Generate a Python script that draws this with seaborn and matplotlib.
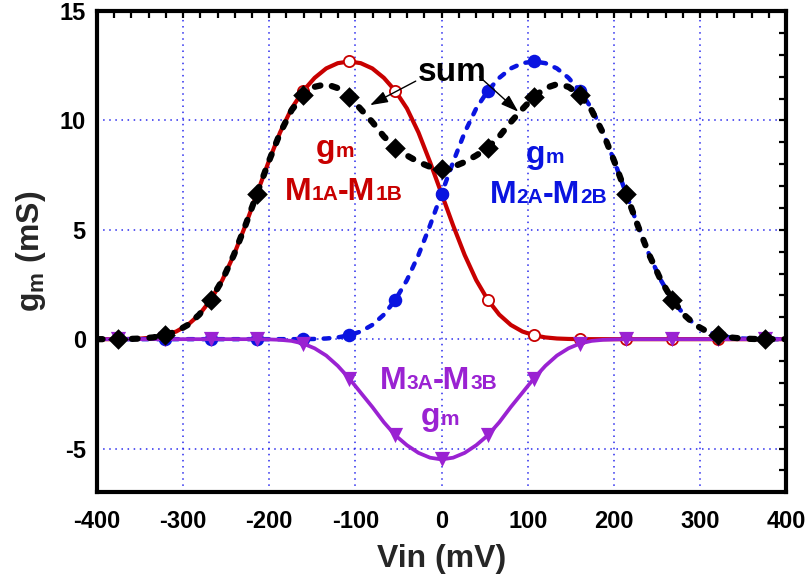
import matplotlib
matplotlib.use("Agg")
import matplotlib.pyplot as plt
from matplotlib.ticker import MultipleLocator
from matplotlib.offsetbox import TextArea, HPacker, AnnotationBbox
import seaborn as sns

# Input voltage sweep (mV)
vin = [-400,
       -375.0, -361.6, -348.2, -334.8, -321.4, -308.0, -294.6, -281.3, -267.9, -254.5,
       -241.1, -227.7, -214.3, -200.9, -187.5, -174.1, -160.7, -147.3, -133.9, -120.5,
       -107.1, -93.8, -80.4, -67.0, -53.6, -40.2, -26.8, -13.4, 0.0, 13.4,
       26.8, 40.2, 53.6, 67.0, 80.4, 93.8, 107.1, 120.5, 133.9, 147.3,
       160.7, 174.1, 187.5, 200.9, 214.3, 227.7, 241.1, 254.5, 267.9, 281.3,
       294.6, 308.0, 321.4, 334.8, 348.2, 361.6, 375.0,
       400]

# Transconductance of each differential pair (mS)
gm_m1 = [0,
         0, 0.01, 0.03, 0.08, 0.18, 0.35, 0.65, 1.12, 1.8, 2.7,
         3.85, 5.2, 6.65, 8.1, 9.45, 10.55, 11.35, 11.95, 12.38, 12.62,
         12.7, 12.62, 12.38, 11.95, 11.35, 10.55, 9.45, 8.1, 6.65, 5.2,
         3.85, 2.7, 1.8, 1.12, 0.65, 0.35, 0.18, 0.08, 0.03, 0.01,
         0, 0, 0, 0, 0, 0, 0, 0, 0, 0,
         0, 0, 0, 0, 0, 0, 0,
         0]
gm_m2 = [0,
         0, 0, 0, 0, 0, 0, 0, 0, 0, 0,
         0, 0, 0, 0, 0, 0, 0, 0.01, 0.03, 0.08,
         0.18, 0.35, 0.65, 1.12, 1.8, 2.7, 3.85, 5.2, 6.65, 8.1,
         9.45, 10.55, 11.35, 11.95, 12.38, 12.62, 12.7, 12.62, 12.38, 11.95,
         11.35, 10.55, 9.45, 8.1, 6.65, 5.2, 3.85, 2.7, 1.8, 1.12,
         0.65, 0.35, 0.18, 0.08, 0.03, 0.01, 0,
         0]
gm_m3 = [0,
         0, 0, 0, 0, 0, 0, 0, 0, 0, 0,
         0, 0, 0, -0.01, -0.03, -0.08, -0.2, -0.42, -0.75, -1.22,
         -1.8, -2.45, -3.1, -3.8, -4.4, -4.85, -5.2, -5.42, -5.5, -5.42,
         -5.2, -4.85, -4.4, -3.8, -3.1, -2.45, -1.8, -1.22, -0.75, -0.42,
         -0.2, -0.08, -0.03, -0.01, 0, 0, 0, 0, 0, 0,
         0, 0, 0, 0, 0, 0, 0,
         0]
gm_sum = [0,
          0, 0.01, 0.03, 0.08, 0.18, 0.35, 0.65, 1.12, 1.8, 2.7,
          3.85, 5.2, 6.65, 8.09, 9.42, 10.47, 11.15, 11.54, 11.66, 11.48,
          11.08, 10.52, 9.93, 9.27, 8.75, 8.4, 8.1, 7.88, 7.8, 7.88,
          8.1, 8.4, 8.75, 9.27, 9.93, 10.52, 11.08, 11.48, 11.66, 11.54,
          11.15, 10.47, 9.42, 8.09, 6.65, 5.2, 3.85, 2.7, 1.8, 1.12,
          0.65, 0.35, 0.18, 0.08, 0.03, 0.01, 0,
          0]

x_ticks = [-400, -300, -200, -100, 0, 100, 200, 300, 400]
y_ticks = [-5, 0, 5, 10, 15]

RED = "#c80000"
BLUE = "#0a14e0"
PURPLE = "#9a22d2"
BLACK = "#000000"
FONT = ["Liberation Sans", "DejaVu Sans"]

sns.set_theme(style="white")
plt.rcParams["font.family"] = FONT
plt.rcParams["font.weight"] = "bold"
plt.rcParams["mathtext.fontset"] = "custom"
plt.rcParams["mathtext.bf"] = "Liberation Sans:bold"
plt.rcParams["mathtext.rm"] = "Liberation Sans:bold"

fig = plt.figure(figsize=(8.08, 5.86), dpi=100)
ax = fig.add_axes([0.120, 0.160, 0.853, 0.821])

mk = slice(1, None, 4)  # one marker every 53.6 mV

# M1A-M1B
sns.lineplot(x=vin, y=gm_m1, color=RED, linewidth=3.0, ax=ax,
             estimator=None, sort=False, zorder=2)
sns.scatterplot(x=vin[mk], y=gm_m1[mk], marker="o", s=65, color="white",
                edgecolor=RED, linewidth=1.3, ax=ax, zorder=2.1)

# M2A-M2B
sns.lineplot(x=vin, y=gm_m2, color=BLUE, linewidth=3.2, ax=ax,
             estimator=None, sort=False, zorder=3,
             linestyle=(0, (1.3, 2.1)), dash_capstyle="round")
sns.scatterplot(x=vin[mk], y=gm_m2[mk], marker="o", s=95, color=BLUE,
                edgecolor=BLUE, linewidth=0, ax=ax, zorder=3.1)

# M3A-M3B
sns.lineplot(x=vin, y=gm_m3, color=PURPLE, linewidth=2.7, ax=ax,
             estimator=None, sort=False, zorder=4)
sns.scatterplot(x=vin[mk], y=gm_m3[mk], marker="v", s=120, color=PURPLE,
                edgecolor=PURPLE, linewidth=0, ax=ax, zorder=4.1)

# total of the three pairs
sns.lineplot(x=vin, y=gm_sum, color=BLACK, linewidth=4.5, ax=ax,
             estimator=None, sort=False, zorder=5,
             linestyle=(0, (0.9, 1.9)), dash_capstyle="round")
sns.scatterplot(x=vin[mk], y=gm_sum[mk], marker="D", s=110, color=BLACK,
                edgecolor=BLACK, linewidth=0, ax=ax, zorder=5.1)

ax.set_xlim(-400, 400)
ax.set_ylim(-7, 15)
ax.set_xticks(x_ticks)
ax.set_yticks(y_ticks)
ax.set_xticklabels([str(v) for v in x_ticks])
ax.set_yticklabels([str(v) for v in y_ticks])
ax.xaxis.set_minor_locator(MultipleLocator(20))
ax.yaxis.set_minor_locator(MultipleLocator(1))
ax.tick_params(which="both", direction="in", length=5, width=1.6,
               top=True, right=True, colors="black")
ax.tick_params(which="major", labelsize=17)
ax.tick_params(axis="x", which="major", pad=13)
ax.tick_params(axis="y", which="major", pad=8)
for lab in ax.get_xticklabels() + ax.get_yticklabels():
    lab.set_fontweight("bold")

ax.grid(True, which="major", color="#2a2aee", linestyle=(0, (1, 3)),
        linewidth=1.1)
ax.set_axisbelow(True)
for sp in ax.spines.values():
    sp.set_visible(True)
    sp.set_color("black")
    sp.set_linewidth(3)

ax.set_xlabel("Vin (mV)", fontsize=23, fontweight="bold", labelpad=8)
ax.set_ylabel(r"g$_{\mathbf{m}}$ (mS)", fontsize=23, fontweight="bold",
              labelpad=8)


def mixed_label(parts, xy, color):
    boxes = [TextArea(t, textprops=dict(color=color, fontsize=fs,
                                        fontweight="bold", family=FONT))
             for t, fs in parts]
    pack = HPacker(children=boxes, align="baseline", pad=0, sep=0)
    ab = AnnotationBbox(pack, xy, xycoords="data", frameon=False,
                        box_alignment=(0.5, 0.5), pad=0, zorder=6)
    ax.add_artist(ab)


big, small = 23, 15
mixed_label([("g", big), ("m", small)], (-124, 8.7), RED)
mixed_label([("M", big), ("1A", small), ("-M", big), ("1B", small)],
            (-114, 6.75), RED)
mixed_label([("g", big), ("m", small)], (120, 8.4), BLUE)
mixed_label([("M", big), ("2A", small), ("-M", big), ("2B", small)],
            (124, 6.6), BLUE)
mixed_label([("M", big), ("3A", small), ("-M", big), ("3B", small)],
            (-4, -1.9), PURPLE)
mixed_label([("g", big), ("m", small)], (-2, -3.55), PURPLE)

ax.text(12, 12.2, "sum", fontsize=24, fontweight="bold", color=BLACK,
        ha="center", va="center", zorder=6)
arrow = dict(arrowstyle="-|>,head_length=0.9,head_width=0.3", color=BLACK,
             lw=1.0, shrinkA=0, shrinkB=0)
ax.annotate("", xy=(-83, 10.7), xytext=(-30, 11.8), arrowprops=arrow,
            zorder=6)
ax.annotate("", xy=(89, 10.4), xytext=(44, 12.0), arrowprops=arrow,
            zorder=6)

fig.savefig("out.png", dpi=100)
